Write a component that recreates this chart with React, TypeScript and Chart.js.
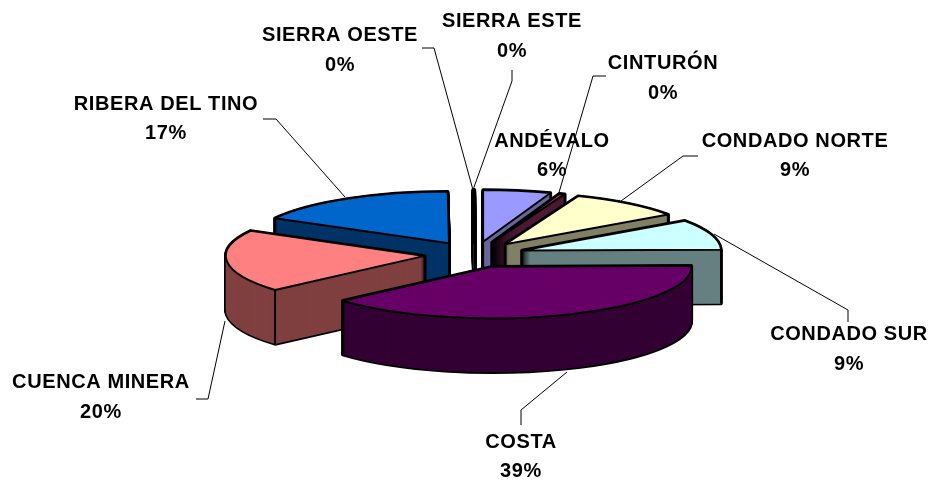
import React, { useEffect, useRef } from "react";
import { Chart, registerables } from "chart.js";

Chart.register(...registerables);

const categories = ["ANDÉVALO", "CINTURÓN", "CONDADO NORTE", "CONDADO SUR", "COSTA", "CUENCA MINERA", "RIBERA DEL TINO", "SIERRA OESTE", "SIERRA ESTE"];
const shares = [5.5, 0.45, 9.3, 9.49, 38.81, 19.5, 16.85, 0.05, 0.05];
const topColours = ["#9999FF", "#993366", "#FFFFCC", "#CCFFFF", "#660066", "#FF8080", "#0066CC", "#CCCCFF", "#000080"];
const sideColours = ["#666699", "#4D1A33", "#808066", "#668080", "#330033", "#804040", "#003366", "#666680", "#000040"];

// label anchor: [centre x, first line y, second line y]
const labelAnchors = [
  [552, 141, 170], [663, 63, 93], [795, 141, 170], [849, 334, 364], [521, 442, 471],
  [101, 382, 412], [166, 104, 133], [340, 35, 65], [512, 21, 51],
];
const leaders = [
  null,
  [[606, 76], [593, 76], [558, 196]],
  [[698, 156], [683, 156], [621, 201]],
  [[848, 322], [848, 310], [714, 234]],
  [[521, 425], [521, 410], [567, 372]],
  [[196, 399], [208, 399], [225, 321]],
  [[263, 119], [276, 119], [345, 197]],
  [[422, 48], [434, 48], [473, 190]],
  [[512, 70], [512, 81], [473, 190]],
];

const TILT = 0.26;
const EXPLODE = 50;
const DEPTH = 54;
const RADIUS = 199;

const pie3d = {
  id: "pie3d",
  beforeDatasetDraw(chart: any) {
    const ctx = chart.ctx as CanvasRenderingContext2D;
    const arcs: any[] = chart.getDatasetMeta(0).data;
    const mid = (a: any) => (a.startAngle + a.endAngle) / 2;
    const order = arcs.map((_, i) => i).sort((p, q) => Math.sin(mid(arcs[p])) - Math.sin(mid(arcs[q])));

    const layer = (arc: any, colour: string, d: number) => {
      const m = mid(arc);
      const shim = Object.create(arc);
      shim.options = { ...arc.options, backgroundColor: colour, borderWidth: 0 };
      ctx.save();
      ctx.translate(arc.x, arc.y + d);
      ctx.scale(1, TILT);
      ctx.translate(Math.cos(m) * EXPLODE, Math.sin(m) * EXPLODE);
      ctx.translate(-arc.x, -arc.y);
      shim.draw(ctx);
      ctx.restore();
    };
    const corner = (arc: any, angle: number | null) => {
      const m = mid(arc);
      const r = angle === null ? 0 : arc.outerRadius;
      const a = angle === null ? 0 : angle;
      return [
        arc.x + Math.cos(m) * EXPLODE + Math.cos(a) * r,
        arc.y + TILT * (Math.sin(m) * EXPLODE + Math.sin(a) * r),
      ];
    };

    ctx.save();
    ctx.lineJoin = "round";
    ctx.strokeStyle = "#000";
    for (const i of order) {
      const arc = arcs[i];
      ctx.lineWidth = 3.4;
      for (let d = DEPTH; d >= 0; d -= 1) {
        layer(arc, "#000", d);
        ctx.stroke();
      }
      for (let d = DEPTH; d >= 0; d -= 1) layer(arc, sideColours[i], d);

      // vertical edges of the prism that are not hidden by its own top face
      ctx.lineWidth = 2;
      const down = Math.PI / 2;
      const s = arc.startAngle;
      const e = arc.endAngle;
      const points: number[][] = [];
      if (!(Math.sin(s) < 0 && Math.cos(s) > 0)) points.push(corner(arc, s));
      if (!(Math.sin(e) < 0 && Math.cos(e) < 0)) points.push(corner(arc, e));
      if (!(s <= down && e >= down)) points.push(corner(arc, null));
      for (const [x, y] of points) {
        ctx.beginPath();
        ctx.moveTo(x, y);
        ctx.lineTo(x, y + DEPTH);
        ctx.stroke();
      }

      layer(arc, topColours[i], 0);
      ctx.lineWidth = 2;
      ctx.stroke();
    }
    ctx.restore();
    return false;
  },
  afterDatasetsDraw(chart: any) {
    const ctx = chart.ctx as CanvasRenderingContext2D;
    ctx.save();
    ctx.strokeStyle = "#000";
    ctx.lineWidth = 1;
    leaders.forEach((line) => {
      if (!line) return;
      ctx.beginPath();
      line.forEach(([x, y], k) => (k ? ctx.lineTo(x, y) : ctx.moveTo(x, y)));
      ctx.stroke();
    });
    const total = shares.reduce((a, b) => a + b, 0);
    ctx.fillStyle = "#000";
    ctx.font = 'bold 20px "Liberation Sans", Arial, sans-serif';
    (ctx as any).letterSpacing = "0.6px";
    ctx.textAlign = "center";
    ctx.textBaseline = "middle";
    categories.forEach((name, i) => {
      const [x, y1, y2] = labelAnchors[i];
      ctx.fillText(name, x, y1);
      ctx.fillText(Math.round((shares[i] / total) * 100) + "%", x, y2);
    });
    ctx.restore();
  },
};

export default function App() {
  const ref = useRef<HTMLCanvasElement>(null);
  useEffect(() => {
    const chart = new Chart(ref.current as HTMLCanvasElement, {
      type: "pie",
      data: {
        labels: categories,
        datasets: [{ data: shares, backgroundColor: topColours, borderWidth: 0 }],
      },
      options: {
        animation: false,
        responsive: false,
        radius: RADIUS,
        rotation: 0,
        layout: { padding: { left: 17, top: 22 } },
        plugins: { legend: { display: false }, tooltip: { enabled: false } },
      } as any,
      plugins: [pie3d as any],
    });
    return () => chart.destroy();
  }, []);
  return (
    <div style={{ position: "fixed", left: 0, top: 0, width: 932, height: 487, background: "#fff" }}>
      <canvas ref={ref} width={932} height={487} style={{ display: "block" }} />
    </div>
  );
}
